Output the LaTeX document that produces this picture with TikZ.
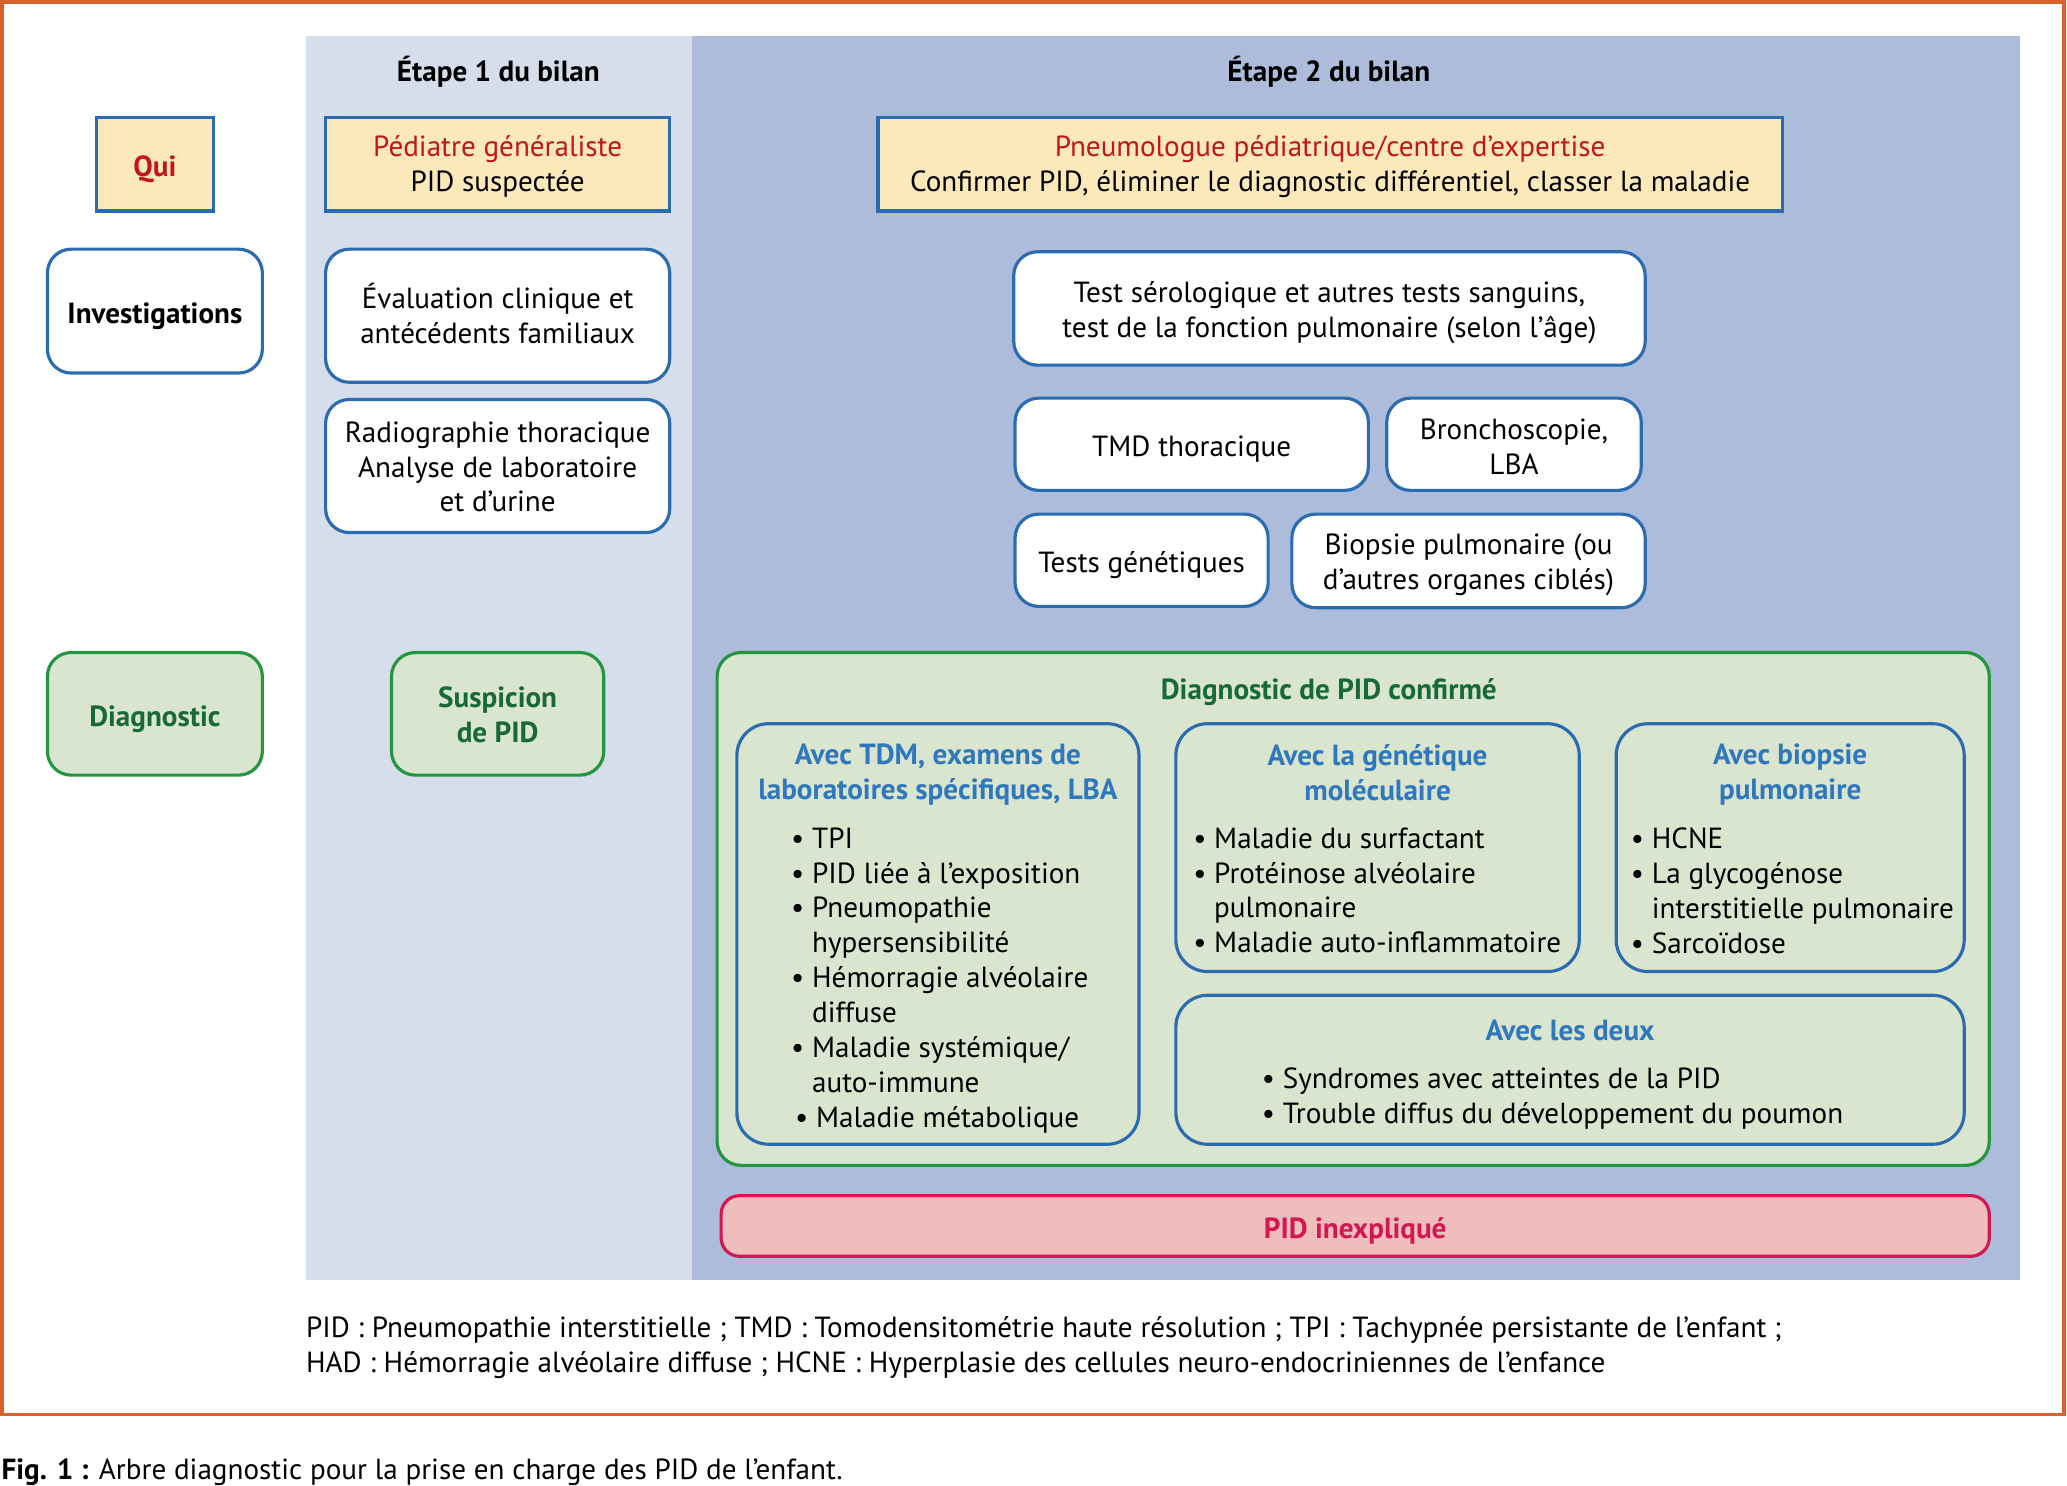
\documentclass[tikz,border=0pt]{standalone}
\usepackage{fontspec}
\setmainfont{PT Sans}
\definecolor{frameor}{HTML}{D9622B}
\definecolor{stA}{HTML}{D6DDEB}
\definecolor{stB}{HTML}{ADBCDA}
\definecolor{qyel}{HTML}{FCE9B9}
\definecolor{bblue}{HTML}{2B6CB0}
\definecolor{tred}{HTML}{C3161C}
\definecolor{gbord}{HTML}{23963F}
\definecolor{gfill}{HTML}{DAE5CF}
\definecolor{gtext}{HTML}{17693A}
\definecolor{tblue}{HTML}{2F78BD}
\definecolor{pfill}{HTML}{EFBDBB}
\definecolor{crim}{HTML}{D21752}
\newcommand\fs{\fontsize{22.1}{26.5}\selectfont}
\newcommand\mystrut{\rule[-2.95pt]{0pt}{26.5pt}}
\tikzset{
  txt/.style={font=\fs, inner sep=0pt, execute at begin node=\mystrut, execute at end node=\mystrut},
  lbl/.style={txt, align=center},
  base/.style={txt, line width=2.4pt, align=center},
  qbox/.style={base, draw=bblue, fill=qyel},
  wbox/.style={base, draw=bblue, fill=white, rounded corners=18pt},
  gbox/.style={base, draw=gbord, fill=gfill, rounded corners=18pt, text=gtext, font=\fs\bfseries},
  sbox/.style={base, draw=bblue, fill=gfill, rounded corners=24pt},
  ttl/.style={txt, align=center, text=tblue, font=\fs\bfseries},
  lst/.style={txt, align=left, anchor=north west},
}
\begin{document}
\begin{tikzpicture}[x=1pt,y=-1pt]
\useasboundingbox (0,0) rectangle (1568,1127);
% backgrounds
\fill[stA] (232,27) rectangle (525,971);
\fill[stB] (525,27) rectangle (1532,971);
\draw[frameor, line width=3pt] (1.5,1.5) rectangle (1565.5,1073);
% headers
\node[txt, font=\fs\bfseries] (h1) at (378,52.5) {Étape 1 du bilan};
\node[txt, font=\fs\bfseries] (h2) at (1008,52.5) {Étape 2 du bilan};
% Qui row
\node[qbox, minimum width=89, minimum height=71, text=tred, font=\fs\bfseries] (qui) at (117.5,124.5) {Qui};
\node[qbox, minimum width=261, minimum height=71] (ped) at (377.5,124.5) {};
\node[lbl] (pedt) at (377.5,126.5) {\textcolor{tred}{Pédiatre généraliste}\\PID suspectée};
\node[qbox, minimum width=686, minimum height=71] (pneu) at (1009,124.5) {};
\node[lbl] (pneut) at (1009,126.5) {\textcolor{tred}{Pneumologue pédiatrique/centre d’expertise}\\Confirmer PID, éliminer le diagnostic différentiel, classer la maladie};
% Investigations
\node[wbox, minimum width=163, minimum height=94, font=\fs\bfseries] (inv) at (117.5,236) {Investigations};
\node[wbox, minimum width=261, minimum height=101] (eval) at (377.5,239.5) {Évaluation clinique et\\antécédents familiaux};
\node[wbox, minimum width=261, minimum height=101] (radio) at (377.5,353.5) {};
\node[lbl] (radiot) at (377.5,355.5) {Radiographie thoracique\\Analyse de laboratoire\\et d’urine};
\node[wbox, minimum width=479, minimum height=86] (sero) at (1008.5,234) {};
\node[lbl] (serot) at (1008.5,237) {Test sérologique et autres tests sanguins,\\test de la fonction pulmonaire (selon l’âge)};
\node[wbox, minimum width=268, minimum height=70] (tmd) at (904,337) {TMD thoracique};
\node[wbox, minimum width=193, minimum height=70] (bron) at (1148.5,337) {};
\node[lbl] (bront) at (1148.5,340) {Bronchoscopie,\\LBA};
\node[wbox, minimum width=192, minimum height=70] (gen) at (866,425) {Tests génétiques};
\node[wbox, minimum width=268, minimum height=71] (biop) at (1114,425.5) {};
\node[lbl] (biopt) at (1114,428.5) {Biopsie pulmonaire (ou\\d’autres organes ciblés)};
% Diagnostic
\node[gbox, minimum width=163, minimum height=93] (diag) at (117.5,541.5) {Diagnostic};
\node[gbox, minimum width=161, minimum height=93] (susp) at (377.5,541.5) {};
\node[lbl, text=gtext, font=\fs\bfseries] (suspt) at (377.5,543.5) {Suspicion\\de PID};
\node[gbox, minimum width=965, minimum height=389] (conf) at (1026.5,689.5) {};
\node[txt, text=gtext, font=\fs\bfseries] (conft) at (1008,521) {Diagnostic de PID confirmé};
% sub boxes
\node[sbox, minimum width=305, minimum height=319] (s1) at (711.5,708.5) {};
\node[sbox, minimum width=306, minimum height=188] (s2) at (1045,643) {};
\node[sbox, minimum width=264, minimum height=188] (s3) at (1358,643) {};
\node[sbox, minimum width=598, minimum height=113] (s4) at (1191,811.5) {};
\node[ttl] (s1t) at (711.5,587.5) {Avec TDM, examens de\\laboratoires spécifiques, LBA};
\node[ttl] (s2t) at (1045,587.5) {Avec la génétique\\moléculaire};
\node[ttl] (s3t) at (1358,587.5) {Avec biopsie\\pulmonaire};
\node[ttl] (s4t) at (1191,779) {Avec les deux};
\newcommand\hb{\hphantom{•\ }}
\node[lst] (s1l) at (600,627.5) {• TPI\\• PID liée à l’exposition\\• Pneumopathie\\\hb hypersensibilité\\• Hémorragie alvéolaire\\\hb diffuse\\• Maladie systémique/\\\hb auto-immune\\\hspace{3pt}• Maladie métabolique};
\node[lst] (s2l) at (905,627.5) {• Maladie du surfactant\\• Protéinose alvéolaire\\\hb pulmonaire\\• Maladie auto-inflammatoire};
\node[lst] (s3l) at (1237,627.5) {• HCNE\\• La glycogénose\\\hb interstitielle pulmonaire\\• Sarcoïdose};
\node[lst] (s4l) at (957,810) {• Syndromes avec atteintes de la PID\\• Trouble diffus du développement du poumon};
% inexplique
\node[base, draw=crim, fill=pfill, rounded corners=14pt, minimum width=962, minimum height=46, text=crim, font=\fs\bfseries] (inexp) at (1028,930) {PID inexpliqué};
% footnote
\node[txt, align=left, anchor=west] (foot) at (232,1022) {PID : Pneumopathie interstitielle ; TMD : Tomodensitométrie haute résolution ; TPI : Tachypnée persistante de l’enfant ;\\HAD : Hémorragie alvéolaire diffuse ; HCNE : Hyperplasie des cellules neuro-endocriniennes de l’enfance};
\node[txt, anchor=west] (cap) at (1,1113) {\textbf{Fig. 1 :} Arbre diagnostic pour la prise en charge des PID de l’enfant.};
\end{tikzpicture}
\end{document}
